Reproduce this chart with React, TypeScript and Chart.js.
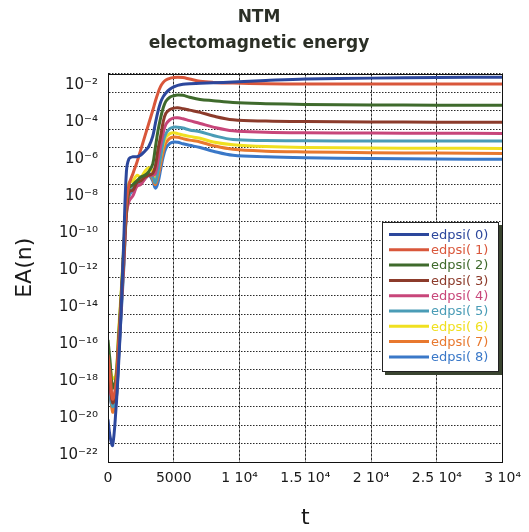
import React, { useEffect, useRef } from 'react';
import { Chart, registerables } from 'chart.js';

Chart.register(...registerables);

// time grid (t)
const T = [0, 150, 350, 600, 800, 1000, 1200, 1400, 1600, 1900, 2200, 2500, 2800, 3100, 3400, 3600, 3800, 4000, 4200, 4400, 4700, 5000, 5300, 5700, 6200, 7000, 8000, 9500, 12000, 15000, 20000, 25000, 30000];

// log10 of EA(n) for each series
const E0 = [-19.7, -20.6, -21.1, -19.2, -16.8, -13.8, -10.0, -6.3, -5.6, -5.5, -5.5, -5.4, -5.2, -4.95, -4.4, -3.7, -3.05, -2.55, -2.25, -2.05, -1.85, -1.72, -1.64, -1.58, -1.55, -1.53, -1.5, -1.46, -1.38, -1.3, -1.25, -1.22, -1.2];
const E1 = [-16.2, -17.2, -18.6, -17.8, -15.6, -13.3, -10.6, -8.0, -7.0, -6.4, -5.8, -5.1, -4.4, -3.7, -3.0, -2.5, -2.05, -1.7, -1.48, -1.35, -1.26, -1.22, -1.2, -1.22, -1.3, -1.42, -1.48, -1.52, -1.55, -1.57, -1.57, -1.57, -1.57];
const E2 = [-15.4, -16.5, -18.0, -17.5, -15.3, -13.0, -10.5, -8.2, -7.2, -7.0, -6.8, -6.6, -6.5, -6.3, -5.9, -5.0, -4.1, -3.4, -2.85, -2.5, -2.28, -2.2, -2.16, -2.18, -2.28, -2.4, -2.47, -2.57, -2.63, -2.67, -2.7, -2.71, -2.72];
const E3 = [-16.3, -17.5, -18.8, -18.3, -15.8, -13.4, -10.9, -8.5, -7.4, -7.3, -6.9, -6.8, -6.6, -6.5, -6.4, -6.0, -5.1, -4.4, -3.6, -3.15, -2.95, -2.87, -2.85, -2.9, -2.98, -3.1, -3.3, -3.5, -3.57, -3.6, -3.62, -3.63, -3.64];
const E4 = [-16.8, -18.0, -18.7, -18.5, -16.0, -13.6, -11.2, -8.6, -7.9, -7.6, -7.1, -7.0, -6.7, -6.5, -6.5, -6.4, -5.7, -4.9, -4.2, -3.75, -3.5, -3.4, -3.39, -3.45, -3.55, -3.7, -3.9, -4.1, -4.17, -4.2, -4.22, -4.23, -4.24];
const E5 = [-17.0, -18.2, -19.0, -18.7, -16.2, -13.8, -11.3, -8.4, -7.6, -7.2, -7.0, -6.8, -6.6, -6.4, -6.6, -6.9, -6.3, -5.5, -4.7, -4.25, -3.98, -3.9, -3.9, -3.95, -4.05, -4.15, -4.35, -4.57, -4.62, -4.64, -4.65, -4.65, -4.65];
const E6 = [-16.0, -16.8, -17.5, -17.3, -15.0, -12.8, -10.3, -8.0, -6.9, -6.8, -6.5, -6.6, -6.3, -6.1, -6.3, -6.7, -6.2, -5.5, -4.85, -4.45, -4.25, -4.2, -4.25, -4.32, -4.4, -4.5, -4.7, -4.85, -4.95, -5.0, -5.03, -5.04, -5.05];
const E7 = [-16.6, -17.8, -19.3, -18.8, -16.3, -13.7, -11.2, -8.5, -7.5, -7.2, -6.8, -6.9, -6.5, -6.4, -6.7, -7.0, -6.6, -5.9, -5.2, -4.75, -4.5, -4.43, -4.45, -4.52, -4.6, -4.7, -4.9, -5.1, -5.2, -5.24, -5.28, -5.3, -5.32];
const E8 = [-17.3, -18.4, -19.1, -18.8, -16.5, -14.0, -11.5, -8.6, -7.6, -7.3, -7.0, -6.9, -6.7, -6.5, -6.8, -7.2, -6.9, -6.2, -5.5, -5.05, -4.78, -4.7, -4.72, -4.8, -4.88, -5.0, -5.2, -5.42, -5.5, -5.55, -5.6, -5.62, -5.64];

const LABELS = ['edpsi( 0)', 'edpsi( 1)', 'edpsi( 2)', 'edpsi( 3)', 'edpsi( 4)', 'edpsi( 5)', 'edpsi( 6)', 'edpsi( 7)', 'edpsi( 8)'];
const COLORS = ['#2c479c', '#d9573b', '#3f6a2c', '#8c3b2b', '#c8467a', '#4a9cb6', '#f0e020', '#e8782e', '#3a78c8'];

const X_TICKS = [0, 5000, 10000, 15000, 20000, 25000, 30000];
const X_TICK_LABELS = ['0', '5000', '1 10⁴', '1.5 10⁴', '2 10⁴', '2.5 10⁴', '3 10⁴'];
const Y_EXPONENTS = [-22, -21, -20, -19, -18, -17, -16, -15, -14, -13, -12, -11, -10, -9, -8, -7, -6, -5, -4, -3, -2, -1];
const Y_TICK_LABELS: Record<string, string> = {
  '-22': '10⁻²²', '-20': '10⁻²⁰', '-18': '10⁻¹⁸', '-16': '10⁻¹⁶', '-14': '10⁻¹⁴', '-12': '10⁻¹²',
  '-10': '10⁻¹⁰', '-8': '10⁻⁸', '-6': '10⁻⁶', '-4': '10⁻⁴', '-2': '10⁻²',
};

const FONT = '"DejaVu Sans", Verdana, sans-serif';

const frame = {
  id: 'frame',
  afterDatasetsDraw(chart: any) {
    const { ctx, chartArea: a } = chart;
    ctx.save();
    ctx.strokeStyle = '#111';
    ctx.lineWidth = 1;
    ctx.strokeRect(Math.round(a.left) + 0.5, Math.round(a.top) + 0.5, Math.round(a.right - a.left) - 1, Math.round(a.bottom - a.top) - 1);
    ctx.restore();
  },
};

const boxLegend = {
  id: 'boxLegend',
  afterDraw(chart: any) {
    const { ctx, chartArea: a } = chart;
    const w = 117, h = 150;
    const x = Math.round(a.right - 4 - w);
    const y = Math.round(a.top + 148.5);
    ctx.save();
    ctx.fillStyle = '#3a4430';
    ctx.fillRect(x + 3, y + 3, w, h);
    ctx.fillStyle = '#ffffff';
    ctx.fillRect(x, y, w, h);
    ctx.strokeStyle = '#222';
    ctx.lineWidth = 1;
    ctx.strokeRect(x + 0.5, y + 0.5, w - 1, h - 1);
    ctx.font = '13px ' + FONT;
    ctx.textBaseline = 'middle';
    ctx.textAlign = 'left';
    chart.data.datasets.forEach((ds: any, i: number) => {
      const cy = y + 12.5 + i * 15.3;
      ctx.strokeStyle = ds.borderColor;
      ctx.lineWidth = 3;
      ctx.beginPath();
      ctx.moveTo(x + 7, cy);
      ctx.lineTo(x + 47, cy);
      ctx.stroke();
      ctx.fillStyle = ds.borderColor;
      ctx.fillText(ds.label, x + 49, cy + 1);
    });
    ctx.restore();
  },
};

export default function App() {
  const ref = useRef<HTMLCanvasElement>(null);
  useEffect(() => {
    const series = [E0, E1, E2, E3, E4, E5, E6, E7, E8];
    const chart = new Chart(ref.current!, {
      type: 'line',
      data: {
        datasets: series.map((s, i) => ({
          label: LABELS[i],
          data: T.map((t, j) => ({ x: t, y: Math.pow(10, s[j]) })),
          borderColor: COLORS[i],
          backgroundColor: COLORS[i],
          borderWidth: 3,
          pointRadius: 0,
          tension: 0.35,
          fill: false,
        })),
      },
      options: {
        responsive: false,
        animation: false,
        events: [],
        layout: { padding: { left: 12, right: 23, top: 0, bottom: 0 } },
        plugins: {
          legend: { display: false },
          tooltip: { enabled: false },
          title: {
            display: true,
            text: ['NTM', 'electomagnetic energy'],
            color: '#2b2f26',
            font: { family: FONT, size: 17, weight: 'bold', lineHeight: '26px' } as any,
            padding: { top: 5, bottom: 16.5 },
          },
        },
        scales: {
          x: {
            type: 'linear',
            min: 0,
            max: 30000,
            afterBuildTicks: (scale: any) => { scale.ticks = X_TICKS.map((v) => ({ value: v })); },
            afterFit: (scale: any) => { scale.height = 70; },
            ticks: {
              color: '#1a1a1a',
              font: { family: FONT, size: 14 },
              padding: 8,
              maxRotation: 0,
              autoSkip: false,
              callback: (v: any) => X_TICK_LABELS[X_TICKS.indexOf(Number(v))] ?? '',
            },
            grid: { color: '#2a2a2a', lineWidth: 1, drawTicks: false, tickLength: 0 },
            border: { display: true, color: '#111', dash: [3, 1] } as any,
            title: {
              display: true,
              text: 't',
              color: '#1a1a1a',
              font: { family: FONT, size: 22 },
              padding: { top: 0, bottom: 1 },
            },
          },
          y: {
            type: 'logarithmic',
            min: 1e-22,
            max: 1e-1,
            afterBuildTicks: (scale: any) => { scale.ticks = Y_EXPONENTS.map((e) => ({ value: Math.pow(10, e) })); },
            afterFit: (scale: any) => { scale.width = 96; },
            ticks: {
              color: '#1a1a1a',
              font: { family: FONT, size: 15 },
              padding: 10,
              labelOffset: -7,
              autoSkip: false,
              callback: (v: any) => {
                const e = Math.round(Math.log10(Number(v)));
                return Y_TICK_LABELS[String(e)] ?? '';
              },
            },
            grid: { color: '#2a2a2a', lineWidth: 1, drawTicks: false, tickLength: 0 },
            border: { display: true, color: '#111', dash: [1.5, 1.5] } as any,
            title: {
              display: true,
              text: 'EA(n)',
              color: '#1a1a1a',
              font: { family: FONT, size: 22 },
              padding: { top: 0, bottom: 0 },
            },
          },
        },
      },
      plugins: [frame, boxLegend],
    });
    return () => chart.destroy();
  }, []);
  return (
    <div style={{ position: 'absolute', left: 0, top: 0, width: 529, height: 532, background: '#fff' }}>
      <canvas ref={ref} width={529} height={532} style={{ display: 'block' }} />
    </div>
  );
}
